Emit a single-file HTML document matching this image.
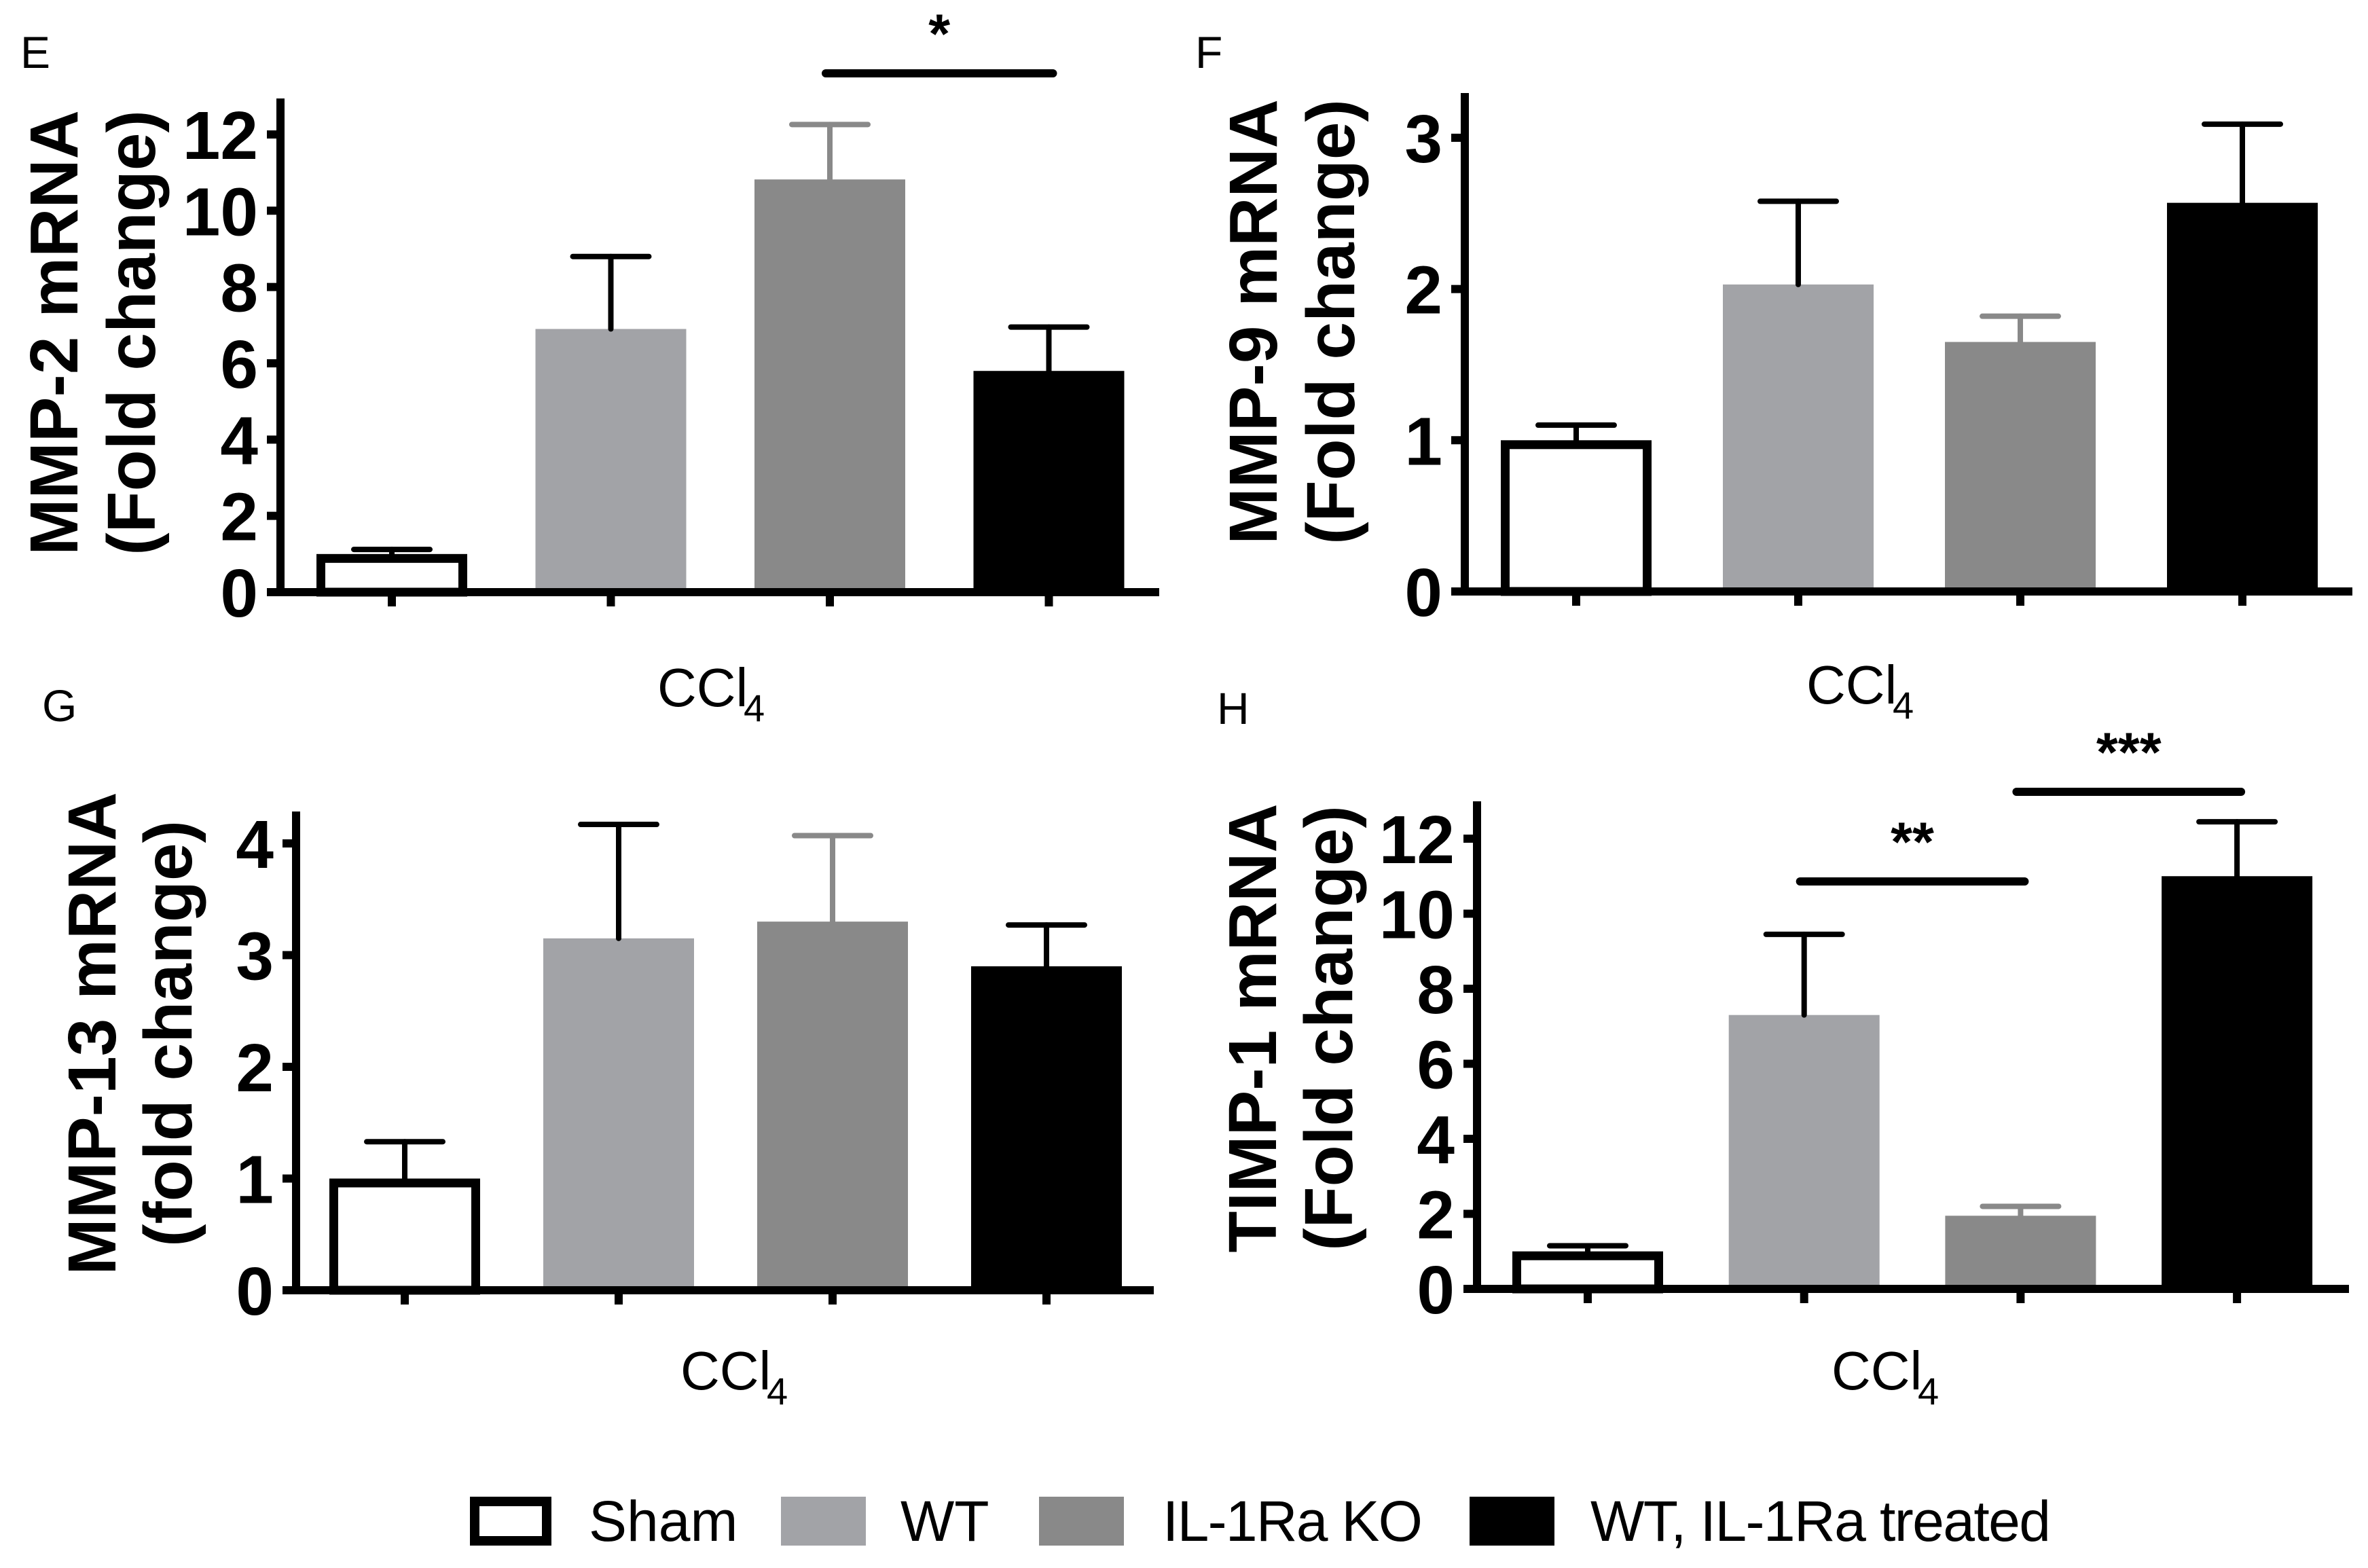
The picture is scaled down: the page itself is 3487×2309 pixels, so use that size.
<!DOCTYPE html>
<html><head><meta charset="utf-8"><style>
html,body{margin:0;padding:0;background:#fff;}
svg{display:block;}
</style></head><body>
<svg id="fig" width="3487" height="2309" viewBox="0 0 3487 2309" xmlns="http://www.w3.org/2000/svg" font-family="Liberation Sans, Arial, sans-serif">
<g id="legend">
  <g>
    <rect x="699" y="2211" width="106" height="58" fill="#fff" stroke="#000" stroke-width="14"/>
    <text x="867" y="2269" font-size="84">Sham</text>
  </g>
  <g>
    <rect x="1150" y="2204" width="125" height="72" fill="#a2a3a7"/>
    <text x="1326" y="2269" font-size="84">WT</text>
  </g>
  <g>
    <rect x="1530" y="2204" width="125" height="72" fill="#898989"/>
    <text x="1712" y="2269" font-size="84" textLength="383">IL-1Ra KO</text>
  </g>
  <g>
    <rect x="2164" y="2204" width="125" height="72" fill="#000"/>
    <text x="2342" y="2269" font-size="84" textLength="678">WT, IL-1Ra treated</text>
  </g>
</g>
</svg>
<script>
// ---- data ----
const groups = ["Sham", "WT", "IL-1Ra KO", "WT, IL-1Ra treated"];
const mmp2Values = [1.0, 6.9, 10.82, 5.8];
const mmp2Errors = [1.12, 8.8, 12.26, 6.95];
const mmp2Ticks = [0, 2, 4, 6, 8, 10, 12];
const mmp9Values = [1.0, 2.03, 1.65, 2.57];
const mmp9Errors = [1.1, 2.58, 1.82, 3.09];
const mmp9Ticks = [0, 1, 2, 3];
const mmp13Values = [1.0, 3.15, 3.3, 2.9];
const mmp13Errors = [1.33, 4.17, 4.07, 3.27];
const mmp13Ticks = [0, 1, 2, 3, 4];
const timp1Values = [1.0, 7.3, 1.95, 11.0];
const timp1Errors = [1.15, 9.45, 2.2, 12.45];
const timp1Ticks = [0, 2, 4, 6, 8, 10, 12];

const NS = "http://www.w3.org/2000/svg";
const svg = document.getElementById("fig");
const fills = ["#fff", "#a2a3a7", "#898989", "#000"];
const errColors = ["#000", "#000", "#898989", "#000"];

function mk(tag, attrs, parent) {
  const e = document.createElementNS(NS, tag);
  for (const k in attrs) e.setAttribute(k, attrs[k]);
  parent.appendChild(e);
  return e;
}

function panel(cfg) {
  const g = mk("g", {}, svg);
  
  
  const y = v => cfg.base - (v - 0) * cfg.unit;
  const xc = i => cfg.x0 + i * cfg.step;
  const L = mk("text", {x: cfg.letter[1], y: cfg.letter[2], "font-size": 66}, g);
  L.textContent = cfg.letter[0];
  
  
  cfg.values.forEach((v, i) => {
    const w = 222;
    let r;
    if (i === 0) {
      r = mk("rect", {x: xc(i) - w / 2 + 6.5, y: y(v) + 6.5, width: w - 13, height: Math.max(0, cfg.base - y(v) - 6.5), fill: "#fff", stroke: "#000", "stroke-width": 13}, g);
    } else {
      r = mk("rect", {x: xc(i) - w / 2, y: y(v), width: w, height: cfg.base - y(v), fill: fills[i]}, g);
    }
    
    
    const e = cfg.errors[i];
    const eg = mk("g", {stroke: errColors[i], "stroke-width": 8, "stroke-linecap": "round"}, g);
    
    
    mk("line", {x1: xc(i), y1: y(v), x2: xc(i), y2: y(e)}, eg);
    mk("line", {x1: xc(i) - 56, y1: y(e), x2: xc(i) + 56, y2: y(e)}, eg);
  });
  const ax = mk("g", {stroke: "#000", "stroke-width": 12}, g);
  
  
  mk("line", {x1: cfg.axisX, y1: cfg.top, x2: cfg.axisX, y2: cfg.base + 6}, ax);
  mk("line", {x1: cfg.axisX - 20, y1: cfg.base, x2: cfg.xEnd, y2: cfg.base}, ax);
  cfg.ticks.forEach(t => {
    mk("line", {x1: cfg.axisX - 20, y1: y(t), x2: cfg.axisX, y2: y(t)}, ax);
    const tl = mk("text", {x: cfg.axisX - 33, y: y(t) + 36, "font-size": 100, "font-weight": "bold", "text-anchor": "end", stroke: "none"}, g);
    tl.textContent = t;
    
    
  });
  cfg.values.forEach((v, i) => {
    mk("line", {x1: xc(i), y1: cfg.base, x2: xc(i), y2: cfg.base + 21}, ax);
  });
  const yt = mk("g", {}, g);
  
  
  [[cfg.title[0], cfg.axisX - cfg.tOff[0]], [cfg.title[1], cfg.axisX - cfg.tOff[1]]].forEach(([s, bx]) => {
    const t = mk("text", {x: 0, y: 0, "font-size": 100, "font-weight": "bold", "text-anchor": "middle", transform: `translate(${bx},${cfg.tMid}) rotate(-90)`}, yt);
    t.textContent = s;
  });
  const xl = mk("text", {x: cfg.ccl[0], y: cfg.ccl[1], "font-size": 80}, g);
  xl.textContent = "CCl";
  
  
  const sub = mk("text", {x: cfg.ccl[0] + 127, y: cfg.ccl[1] + 22, "font-size": 56}, g);
  sub.textContent = "4";
  (cfg.sig || []).forEach(s => {
    const sg = mk("g", {}, g);
    
    
    mk("line", {x1: xc(s.from) - 6, y1: s.y, x2: xc(s.to) + 6, y2: s.y, stroke: "#000", "stroke-width": 12, "stroke-linecap": "round"}, sg);
    const st = mk("text", {x: (xc(s.from) + xc(s.to)) / 2, y: s.y - 30, "font-size": 82, "font-weight": "bold", "text-anchor": "middle"}, sg);
    st.textContent = s.label;
  });
}

panel({name: "panel-e-mmp2", values: mmp2Values, errors: mmp2Errors, ticks: mmp2Ticks,
  base: 872, unit: 56.17, top: 145, axisX: 413, xEnd: 1707, x0: 577, step: 322.5,
  letter: ["E", 30, 100], title: ["MMP-2 mRNA", "(Fold change)"], tOff: [299, 185], tMid: 490,
  ccl: [968, 1040], sig: [{from: 2, to: 3, y: 108, label: "*"}]});
panel({name: "panel-f-mmp9", values: mmp9Values, errors: mmp9Errors, ticks: mmp9Ticks,
  base: 871, unit: 222.7, top: 137, axisX: 2157, xEnd: 3464, x0: 2321, step: 327,
  letter: ["F", 1760, 100], title: ["MMP-9 mRNA", "(Fold change)"], tOff: [277, 163], tMid: 474,
  ccl: [2660, 1036]});
panel({name: "panel-g-mmp13", values: mmp13Values, errors: mmp13Errors, ticks: mmp13Ticks,
  base: 1900, unit: 164.5, top: 1195, axisX: 436, xEnd: 1699, x0: 596, step: 315,
  letter: ["G", 62, 1062], title: ["MMP-13 mRNA", "(fold change)"], tOff: [266, 154], tMid: 1522,
  ccl: [1002, 2046]});
panel({name: "panel-h-timp1", values: timp1Values, errors: timp1Errors, ticks: timp1Ticks,
  base: 1898, unit: 55.25, top: 1180, axisX: 2175, xEnd: 3459, x0: 2338, step: 318.7,
  letter: ["H", 1792, 1066], title: ["TIMP-1 mRNA", "(Fold change)"], tOff: [296, 184], tMid: 1514,
  ccl: [2697, 2046], sig: [{from: 1, to: 2, y: 1298, label: "**"}, {from: 2, to: 3, y: 1166, label: "***"}]});
</script>
</body></html>
